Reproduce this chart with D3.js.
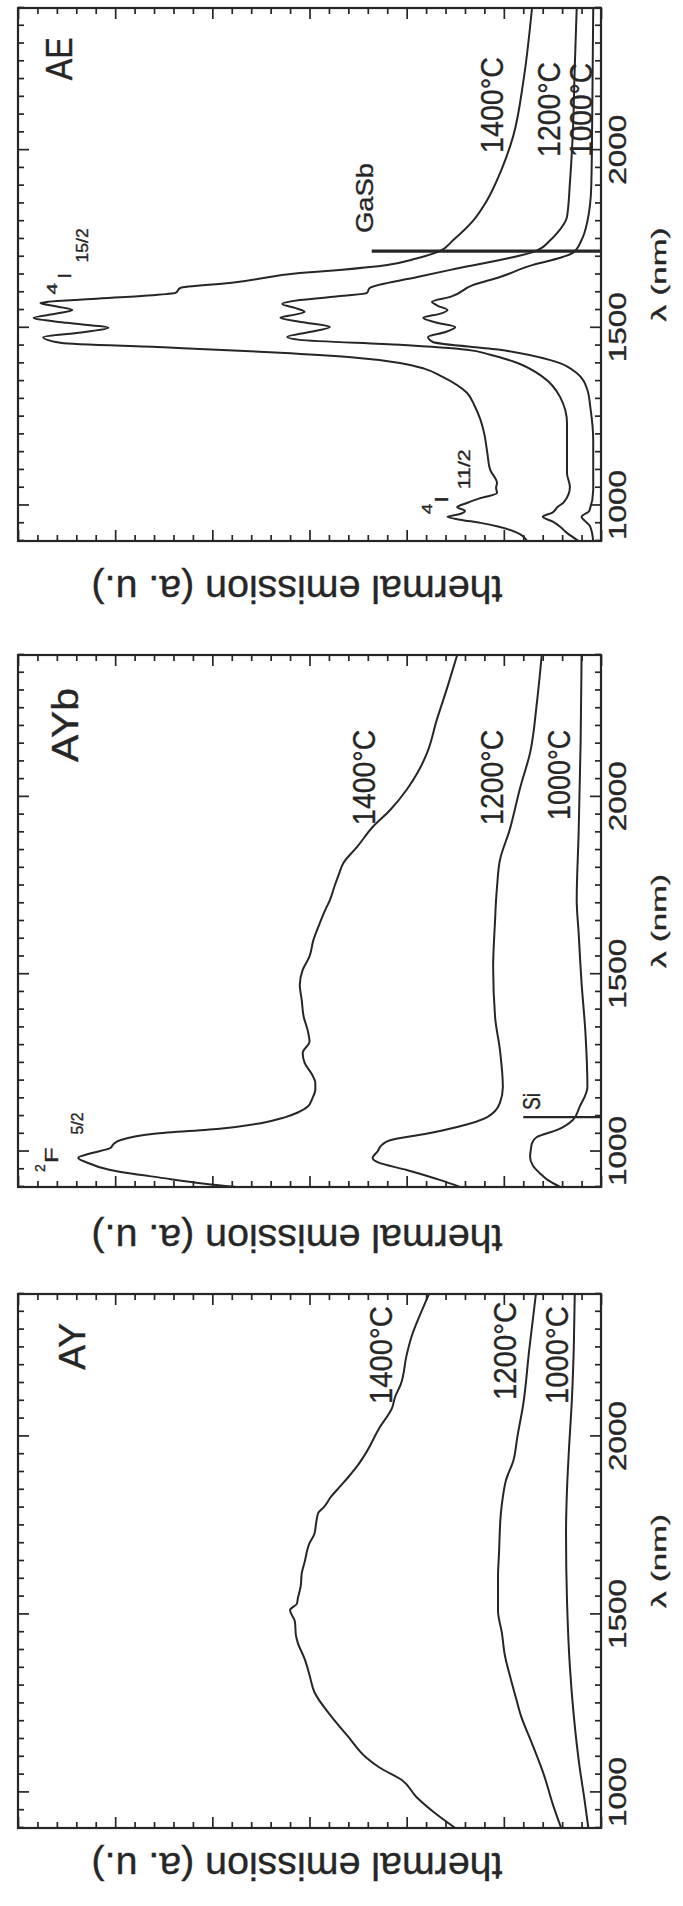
<!DOCTYPE html>
<html><head><meta charset="utf-8">
<script src="https://cdn.jsdelivr.net/npm/d3@7"></script>
<style>html,body{margin:0;padding:0;background:#fff}</style>
</head><body>
<svg id="c" width="683" height="1906"></svg>
<script>
// ---------------- DATA ----------------
const panelNames = ["AY", "AYb", "AE"];
const wavelengthDomain = [900, 2400];
const intensityDomain = [0, 6];
const wavelengthTicks = [1000, 1500, 2000];
const xAxisTitle = "λ (nm)";
const yAxisTitle = "thermal emission (a. u.)";

// [wavelength nm, emission a.u.]
const ay1400 = [[900,1.50],[940,1.70],[987,1.90],[1035,2.05],[1070,2.28],[1099,2.42],[1156,2.60],[1215,2.78],[1282,2.95],[1330,3.00],[1375,3.05],[1420,3.12],[1442,3.14],[1480,3.15],[1512,3.20],[1530,3.13],[1545,3.12],[1580,3.09],[1615,3.08],[1647,3.05],[1700,3.00],[1726,2.95],[1760,2.93],[1785,2.91],[1802,2.85],[1830,2.78],[1858,2.69],[1886,2.60],[1920,2.50],[1953,2.42],[2024,2.28],[2080,2.15],[2110,2.12],[2147,2.06],[2229,2.00],[2280,1.95],[2330,1.88],[2400,1.77]];
const ay1200 = [[900,0.41],[970,0.50],[1043,0.58],[1144,0.72],[1212,0.82],[1260,0.87],[1320,0.93],[1386,0.99],[1448,1.02],[1510,1.06],[1605,1.06],[1670,1.05],[1785,1.03],[1830,1.01],[1875,0.98],[1934,0.90],[2000,0.86],[2091,0.80],[2240,0.74],[2400,0.67]];
const ay1000 = [[900,0.13],[980,0.17],[1071,0.22],[1215,0.28],[1352,0.32],[1540,0.35],[1728,0.36],[1850,0.35],[1962,0.33],[2102,0.30],[2250,0.28],[2400,0.27]];

const ayb1400 = [[900,3.75],[910,4.10],[925,4.50],[948,5.05],[970,5.30],[982,5.38],[995,5.25],[1010,5.05],[1020,5.02],[1032,4.95],[1050,4.60],[1065,3.90],[1080,3.50],[1095,3.27],[1110,3.12],[1126,3.02],[1150,2.97],[1175,2.94],[1193,2.94],[1220,2.98],[1250,3.05],[1278,3.07],[1310,3.00],[1343,3.02],[1380,3.06],[1427,3.08],[1470,3.10],[1512,3.07],[1550,3.00],[1596,2.96],[1640,2.90],[1680,2.84],[1709,2.79],[1750,2.74],[1780,2.70],[1814,2.65],[1859,2.51],[1915,2.35],[1963,2.17],[2020,2.00],[2067,1.89],[2124,1.79],[2217,1.69],[2310,1.58],[2400,1.48]];
const ayb1200 = [[900,1.45],[920,1.66],[948,2.00],[970,2.30],[982,2.35],[1000,2.30],[1020,2.25],[1032,2.17],[1050,1.80],[1069,1.48],[1097,1.17],[1137,1.04],[1182,1.01],[1286,1.04],[1379,1.09],[1520,1.11],[1653,1.09],[1709,1.08],[1746,1.07],[1822,1.04],[1907,0.94],[2028,0.83],[2124,0.73],[2265,0.66],[2400,0.61]];
const ayb1000 = [[900,0.42],[920,0.55],[939,0.63],[960,0.70],[985,0.73],[1010,0.72],[1024,0.71],[1041,0.66],[1061,0.45],[1089,0.29],[1126,0.22],[1182,0.14],[1334,0.16],[1475,0.20],[1616,0.23],[1709,0.25],[1900,0.23],[2150,0.21],[2400,0.20]];

const ae1400 = [[900,0.76],[923,0.86],[940,1.05],[951,1.24],[960,1.45],[968,1.58],[976,1.45],[985,1.40],[995,1.48],[1007,1.38],[1020,1.25],[1035,1.07],[1050,1.08],[1063,1.07],[1100,1.14],[1148,1.17],[1200,1.20],[1241,1.24],[1280,1.30],[1317,1.38],[1362,1.63],[1385,1.82],[1401,2.07],[1418,2.60],[1430,3.30],[1445,4.50],[1457,5.55],[1474,5.74],[1487,5.35],[1500,5.07],[1514,5.50],[1528,5.84],[1540,5.60],[1550,5.44],[1560,5.60],[1570,5.77],[1578,5.43],[1590,4.70],[1598,4.38],[1612,4.33],[1626,3.82],[1654,3.10],[1663,2.69],[1677,2.20],[1695,1.90],[1716,1.66],[1747,1.52],[1800,1.32],[1860,1.17],[1941,1.03],[2043,0.90],[2192,0.80],[2400,0.71]];
const ae1200 = [[900,0.23],[925,0.36],[940,0.42],[955,0.50],[968,0.60],[980,0.50],[995,0.45],[1010,0.38],[1052,0.32],[1091,0.35],[1232,0.35],[1305,0.42],[1362,0.60],[1401,0.86],[1425,1.15],[1438,1.38],[1452,2.07],[1466,3.10],[1474,3.23],[1488,3.00],[1502,2.79],[1515,3.05],[1528,3.30],[1537,3.15],[1545,3.05],[1556,3.15],[1567,3.28],[1578,3.10],[1590,2.65],[1598,2.41],[1612,2.38],[1643,1.89],[1663,1.55],[1691,1.04],[1713,0.70],[1747,0.52],[1767,0.45],[1812,0.35],[1908,0.32],[2048,0.29],[2234,0.27],[2400,0.25]];
const ae1000 = [[900,0.08],[940,0.11],[955,0.16],[968,0.20],[985,0.12],[1044,0.08],[1184,0.08],[1277,0.11],[1325,0.14],[1373,0.25],[1409,0.52],[1438,1.04],[1460,1.73],[1474,1.78],[1488,1.60],[1502,1.50],[1515,1.70],[1528,1.83],[1540,1.65],[1550,1.58],[1562,1.68],[1573,1.74],[1587,1.55],[1620,1.32],[1643,1.04],[1677,0.70],[1697,0.42],[1711,0.29],[1747,0.20],[1800,0.14],[1900,0.10],[2100,0.09],[2400,0.08]];

const seriesByPanel = {
  AY: [ay1400, ay1200, ay1000],
  AYb: [ayb1400, ayb1200, ayb1000],
  AE: [ae1400, ae1200, ae1000]
};

// labels anchored in data units: [start λ, end λ], baseline emission
const curveLabels = [
  {panel:"AE",  text:"1400°C", lam:[1992,2262], val:1.01},
  {panel:"AE",  text:"1200°C", lam:[1981,2248], val:0.42},
  {panel:"AE",  text:"1000°C", lam:[1981,2245], val:0.09},
  {panel:"AYb", text:"1400°C", lam:[1921,2189], val:2.33},
  {panel:"AYb", text:"1200°C", lam:[1921,2189], val:1.01},
  {panel:"AYb", text:"1000°C", lam:[1935,2189], val:0.32},
  {panel:"AY",  text:"1400°C", lam:[2091,2366], val:2.15},
  {panel:"AY",  text:"1200°C", lam:[2102,2378], val:0.87},
  {panel:"AY",  text:"1000°C", lam:[2091,2366], val:0.34}
];
const panelTitles = [
  {panel:"AY",  text:"AY",  lam:[2187,2319], val:5.31},
  {panel:"AYb", text:"AYb", lam:[2098,2307], val:5.38},
  {panel:"AE",  text:"AE",  lam:[2197,2318], val:5.44}
];
const edgeMarkers = [
  {panel:"AE",  text:"GaSb", edge:1716, top:2.36, lam:[1767,1964], val:2.35},
  {panel:"AYb", text:"Si",   edge:1097, top:0.80, lam:[1117,1165], val:0.63}
];
const termSymbols = [
  {panel:"AE",  parts:[{t:"4",lam:[1594,1626],val:5.60,s:"sup"},{t:"I",lam:[1638,1654],val:5.45,s:"main"},{t:"15/2",lam:[1684,1780],val:5.28,s:"sub"}]},
  {panel:"AE",  parts:[{t:"4",lam:[975,1005],val:1.74,s:"sup"},{t:"I",lam:[1008,1027],val:1.57,s:"main"},{t:"11/2",lam:[1046,1158],val:1.35,s:"sub"}]},
  {panel:"AYb", parts:[{t:"2",lam:[942,964],val:5.72,s:"sup"},{t:"F",lam:[968,1012],val:5.59,s:"main"},{t:"5/2",lam:[1048,1110],val:5.33,s:"sub"}]}
];

// ---------------- LAYOUT ----------------
const W = 683, H = 1906;
const FONT = "'Liberation Sans', Arial, Helvetica, sans-serif";
const INK = "#262626";
const plotTop = 18, plotBottom = 601;
const panelSpan = { AY:[78,612], AYb:[719,1251], AE:[1365,1898] };
const yTitleBase = { AY:53, AYb:681, AE:1330 };
const yTitleCenter = 297;
const sizes = { tick:23, tickLen:70, xtitle:21, xtitleLen:94, ytitle:38, ytitleLen:411,
                curve:31, panel:36, marker:24, main:19, sup:15, sub:16 };

const svg = d3.select("#c");
svg.append("rect").attr("width", W).attr("height", H).attr("fill", "#fff");
// original figure is drawn landscape, then rotated 90° counter-clockwise
const root = svg.append("g").attr("transform", `translate(0,${H}) rotate(-90)`);

const minorL = d3.range(900, 2401, 50).filter(v => v % 500 !== 0);
const minorI = d3.range(0, 31).map(k => k / 5).filter(v => Math.abs(v - Math.round(v)) > 1e-6);
const majorI = d3.range(0, 7);

function styleAxis(sel) {
  sel.select(".domain").remove();
  sel.selectAll("line").attr("stroke", INK).attr("stroke-width", 1.7);
}
function inkText(sel, size) {
  return sel.attr("font-family", FONT).attr("font-size", size).attr("fill", INK)
    .attr("stroke", INK).attr("stroke-width", 0.35);
}

panelNames.forEach(name => {
  const [x0, x1] = panelSpan[name];
  const x = d3.scaleLinear().domain(wavelengthDomain).range([x0, x1]);
  const y = d3.scaleLinear().domain(intensityDomain).range([plotBottom, plotTop]);
  const g = root.append("g");

  // ticks (inward, on all four sides)
  [["axisBottom", plotBottom], ["axisTop", plotTop]].forEach(([fn, pos]) => {
    g.append("g").attr("transform", `translate(0,${pos})`)
      .call(d3[fn](x).tickValues(minorL).tickSize(-6).tickFormat("")).call(styleAxis);
  });
  g.append("g").attr("transform", `translate(0,${plotTop})`)
    .call(d3.axisTop(x).tickValues(wavelengthTicks).tickSize(-11).tickFormat("")).call(styleAxis);
  const bx = g.append("g").attr("transform", `translate(0,${plotBottom})`)
    .call(d3.axisBottom(x).tickValues(wavelengthTicks).tickSize(-11).tickFormat(d3.format("d")));
  styleAxis(bx);
  inkText(bx.selectAll("text").attr("y", 25).attr("dy", 0), sizes.tick)
    .attr("textLength", sizes.tickLen).attr("lengthAdjust", "spacingAndGlyphs");

  [["axisLeft", x0], ["axisRight", x1]].forEach(([fn, pos]) => {
    g.append("g").attr("transform", `translate(${pos},0)`)
      .call(d3[fn](y).tickValues(minorI).tickSize(-6).tickFormat("")).call(styleAxis);
    g.append("g").attr("transform", `translate(${pos},0)`)
      .call(d3[fn](y).tickValues(majorI).tickSize(-11).tickFormat("")).call(styleAxis);
  });

  // frame
  g.append("rect").attr("x", x0).attr("y", plotTop).attr("width", x1 - x0).attr("height", plotBottom - plotTop)
    .attr("fill", "none").attr("stroke", INK).attr("stroke-width", 2.2);

  // curves
  const line = d3.line().x(d => x(d[0])).y(d => y(d[1])).curve(d3.curveMonotoneX);
  g.selectAll("path.curve").data(seriesByPanel[name]).join("path").attr("class", "curve")
    .attr("d", line).attr("fill", "none").attr("stroke", INK).attr("stroke-width", 2)
    .attr("stroke-linejoin", "round");

  // absorption-edge markers
  edgeMarkers.filter(m => m.panel === name).forEach(m => {
    g.append("line").attr("x1", x(m.edge)).attr("x2", x(m.edge))
      .attr("y1", y(0)).attr("y2", y(m.top))
      .attr("stroke", INK).attr("stroke-width", m.text === "GaSb" ? 3.2 : 2.4);
    inkText(g.append("text").attr("x", x(m.lam[0])).attr("y", y(m.val)).text(m.text), sizes.marker)
      .attr("textLength", x(m.lam[1]) - x(m.lam[0])).attr("lengthAdjust", "spacingAndGlyphs");
  });

  // temperature labels
  curveLabels.filter(c => c.panel === name).forEach(c => {
    inkText(g.append("text").attr("x", x(c.lam[0])).attr("y", y(c.val)).text(c.text), sizes.curve)
      .attr("textLength", x(c.lam[1]) - x(c.lam[0])).attr("lengthAdjust", "spacingAndGlyphs");
  });

  // panel title
  panelTitles.filter(c => c.panel === name).forEach(c => {
    inkText(g.append("text").attr("x", x(c.lam[0])).attr("y", y(c.val)).text(c.text), sizes.panel)
      .attr("textLength", x(c.lam[1]) - x(c.lam[0])).attr("lengthAdjust", "spacingAndGlyphs");
  });

  // spectroscopic term symbols
  termSymbols.filter(t => t.panel === name).forEach(t => {
    t.parts.forEach(p => {
      inkText(g.append("text").attr("x", x(p.lam[0])).attr("y", y(p.val)).text(p.t), sizes[p.s])
        .attr("textLength", x(p.lam[1]) - x(p.lam[0])).attr("lengthAdjust", "spacingAndGlyphs");
    });
  });

  // axis titles
  inkText(g.append("text").attr("x", (x0 + x1) / 2).attr("y", 666).attr("text-anchor", "middle")
    .text(xAxisTitle), sizes.xtitle)
    .attr("textLength", sizes.xtitleLen).attr("lengthAdjust", "spacingAndGlyphs");
  inkText(g.append("text").attr("transform", `translate(${yTitleBase[name]},${yTitleCenter}) rotate(-90)`)
    .attr("text-anchor", "middle").text(yAxisTitle), sizes.ytitle)
    .attr("textLength", sizes.ytitleLen).attr("lengthAdjust", "spacingAndGlyphs");
});
</script>
</body></html>
